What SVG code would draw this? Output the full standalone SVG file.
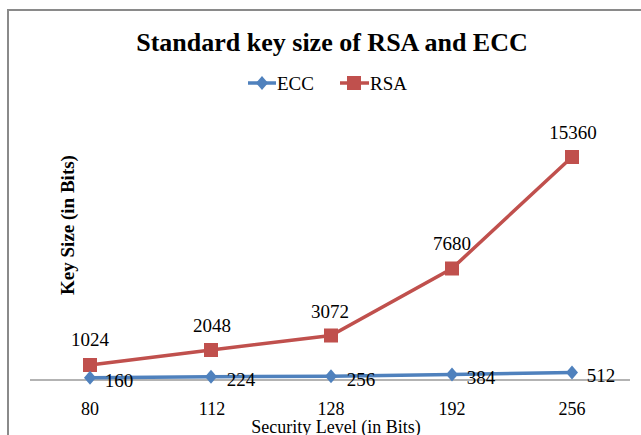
<svg xmlns="http://www.w3.org/2000/svg" width="641" height="435" viewBox="0 0 641 435">
<style>
text{font-family:"Liberation Serif","Times New Roman",serif;fill:#000}
.lbl{font-size:19px;text-anchor:middle}
.tick{font-size:18px;text-anchor:middle}
.ecc{stroke:#4F81BD;stroke-width:3.5;fill:none}
.rsa{stroke:#C0504D;stroke-width:3.5;fill:none}
</style>
<defs>
<path id="dia" d="M0,-7 L6,0 L0,7 L-6,0 Z" fill="#4F81BD"/>
<rect id="sq" x="-7" y="-7" width="14" height="14" fill="#C0504D"/>
</defs>
<rect width="641" height="435" fill="#fff"/>
<path d="M8,435 V10 H641" fill="none" stroke="#8a8a8a" stroke-width="2"/>
<text x="332" y="51" font-size="26" font-weight="bold" text-anchor="middle">Standard key size of RSA and ECC</text>
<g id="legend">
<line x1="248" y1="83" x2="276" y2="83" class="ecc"/>
<use href="#dia" x="262" y="83"/>
<text x="277" y="90" font-size="19">ECC</text>
<line x1="340" y1="83" x2="369" y2="83" class="rsa"/>
<use href="#sq" x="354" y="83"/>
<text x="370" y="90" font-size="19">RSA</text>
</g>
<text transform="translate(74,225) rotate(-90)" font-size="19" font-weight="bold" text-anchor="middle">Key Size (in  Bits)</text>
<line x1="30" y1="380" x2="630" y2="380" stroke="#9a9a9a" stroke-width="1.5"/>
<g id="connectors">
<polyline class="rsa" points="90,365 211,350 331,335.5 452,268.5 572,157"/>
<polyline class="ecc" points="90,377.7 211,376.7 331,376.3 452,374.4 572,372.6"/>
</g>
<g id="rsa-points">
<use href="#sq" x="90" y="365"/>
<use href="#sq" x="211" y="350"/>
<use href="#sq" x="331" y="335.5"/>
<use href="#sq" x="452" y="268.5"/>
<use href="#sq" x="572" y="157"/>
</g>
<g id="ecc-points">
<use href="#dia" x="90" y="377.7"/>
<use href="#dia" x="211" y="376.7"/>
<use href="#dia" x="331" y="376.3"/>
<use href="#dia" x="452" y="374.4"/>
<use href="#dia" x="572" y="372.6"/>
</g>
<g id="rsa-labels">
<text class="lbl" x="90" y="346">1024</text>
<text class="lbl" x="212" y="332">2048</text>
<text class="lbl" x="330" y="318">3072</text>
<text class="lbl" x="452" y="250">7680</text>
<text class="lbl" x="573" y="139">15360</text>
</g>
<g id="ecc-labels">
<text class="lbl" x="119" y="387">160</text>
<text class="lbl" x="241" y="386">224</text>
<text class="lbl" x="361" y="386">256</text>
<text class="lbl" x="481" y="384">384</text>
<text class="lbl" x="601" y="382">512</text>
</g>
<g id="x-axis">
<text class="tick" x="90" y="415">80</text>
<text class="tick" x="212" y="415">112</text>
<text class="tick" x="331" y="415">128</text>
<text class="tick" x="452" y="415">192</text>
<text class="tick" x="572" y="415">256</text>
<text class="tick" x="336" y="433">Security Level (in Bits)</text>
</g>
</svg>
